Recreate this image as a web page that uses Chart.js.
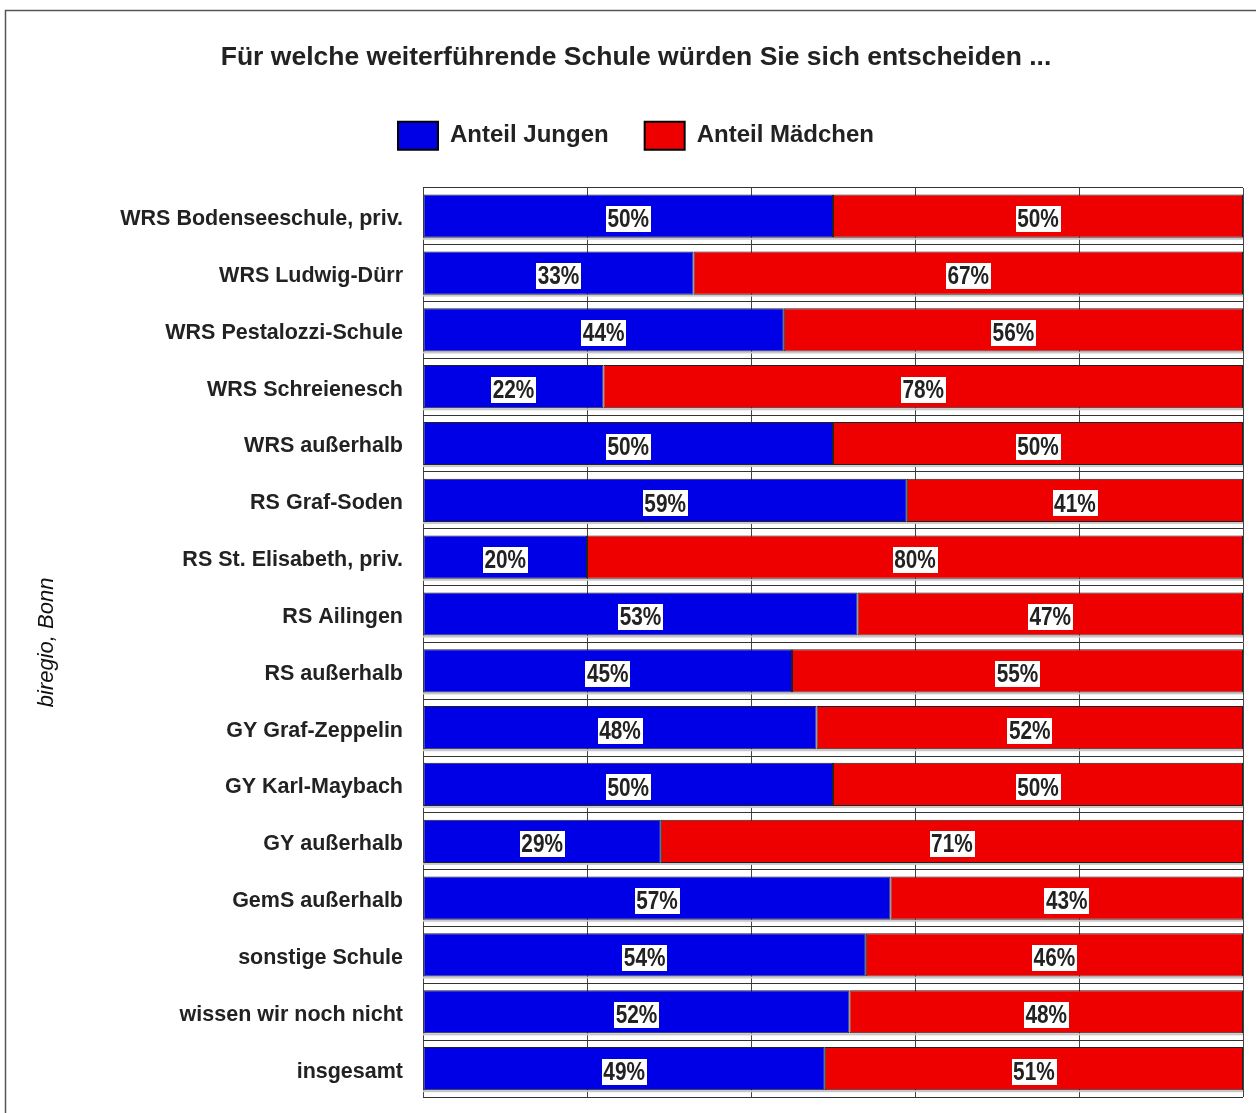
<!DOCTYPE html>
<html>
<head>
<meta charset="utf-8">
<script src="https://cdn.jsdelivr.net/npm/chart.js@4/dist/chart.umd.min.js"></script>
<style>
  html, body { margin: 0; padding: 0; background: #fff; }
  canvas { display: block; }
</style>
</head>
<body>
<canvas id="chart" width="1256" height="1113"></canvas>
<script>
/* data */
const schools = [
    'WRS Bodenseeschule, priv.',
    'WRS Ludwig-Dürr',
    'WRS Pestalozzi-Schule',
    'WRS Schreienesch',
    'WRS außerhalb',
    'RS Graf-Soden',
    'RS St. Elisabeth, priv.',
    'RS Ailingen',
    'RS außerhalb',
    'GY Graf-Zeppelin',
    'GY Karl-Maybach',
    'GY außerhalb',
    'GemS außerhalb',
    'sonstige Schule',
    'wissen wir noch nicht',
    'insgesamt'
];
const jungen = [50, 33, 44, 22, 50, 59, 20, 53, 45, 48, 50, 29, 57, 54, 52, 49];
const maedchen = [50, 67, 56, 78, 50, 41, 80, 47, 55, 52, 50, 71, 43, 46, 48, 51];
const x_ticks = [0, 20, 40, 60, 80, 100];

const BLUE = '#0000e6';
const RED = '#ee0000';
const TEXT = '#222';
const FONT = '"Liberation Sans", Arial, sans-serif';
const PAD_LEFT = 29;

/* outer frame */
const framePlugin = {
    id: 'frame',
    beforeDraw(chart) {
        const ctx = chart.ctx;
        ctx.save();
        ctx.strokeStyle = '#555';
        ctx.lineWidth = 1.5;
        ctx.strokeRect(5.5, 10.5, 1400, 1300);
        ctx.restore();
    }
};

/* light shadow below each bar */
const shadowPlugin = {
    id: 'shadow',
    beforeDatasetsDraw(chart) {
        const ctx = chart.ctx;
        const meta = chart.getDatasetMeta(1);
        const area = chart.chartArea;
        ctx.save();
        ctx.fillStyle = '#c8c8c8';
        meta.data.forEach(bar => {
            const bottom = bar.y + bar.height / 2;
            ctx.fillRect(area.left, bottom, area.right - area.left, 2);
        });
        ctx.restore();
    }
};

/* percent labels in white boxes (narrow bold text) */
const valueLabels = {
    id: 'valueLabels',
    afterDatasetsDraw(chart) {
        const ctx = chart.ctx;
        const squeeze = 0.8;
        ctx.save();
        ctx.font = 'bold 26px ' + FONT;
        ctx.textAlign = 'center';
        ctx.textBaseline = 'middle';
        chart.data.datasets.forEach((ds, di) => {
            chart.getDatasetMeta(di).data.forEach((bar, i) => {
                const text = ds.data[i] + '%';
                const cx = (bar.x + bar.base) / 2;
                const cy = bar.y + 3;
                const w = ctx.measureText(text).width * squeeze + 3;
                ctx.fillStyle = '#fff';
                ctx.fillRect(Math.round(cx - w / 2), Math.round(cy - 13), Math.round(w), 26);
                ctx.save();
                ctx.translate(cx, cy + 1);
                ctx.scale(squeeze, 1);
                ctx.fillStyle = TEXT;
                ctx.fillText(text, 0, 0);
                ctx.restore();
            });
        });
        ctx.restore();
    }
};

new Chart('chart', {
    type: 'bar',
    data: {
        labels: schools,
        datasets: [
            {
                label: 'Anteil Jungen',
                data: jungen,
                backgroundColor: BLUE,
                borderColor: '#222',
                borderWidth: 1,
                borderSkipped: false,
                categoryPercentage: 1,
                barPercentage: 0.76
            },
            {
                label: 'Anteil Mädchen',
                data: maedchen,
                backgroundColor: RED,
                borderColor: '#222',
                borderWidth: 1,
                borderSkipped: false,
                categoryPercentage: 1,
                barPercentage: 0.76
            }
        ]
    },
    options: {
        indexAxis: 'y',
        responsive: false,
        animation: false,
        layout: { padding: { left: PAD_LEFT, right: 13, bottom: 16, top: 0 } },
        scales: {
            x: {
                position: 'top',
                stacked: true,
                min: 0,
                max: 100,
                afterBuildTicks: s => { s.ticks = x_ticks.map(v => ({ value: v })); },
                afterFit: s => { s.height = 28; },
                ticks: { display: false },
                grid: { color: '#444', lineWidth: 1, drawTicks: false },
                border: { display: false }
            },
            y: {
                stacked: true,
                afterFit: s => {
                    s.width = 423 - PAD_LEFT;
                    s.paddingTop = 0;
                    s.paddingBottom = 0;
                },
                ticks: {
                    color: TEXT,
                    padding: 20,
                    labelOffset: 3,
                    font: { family: FONT, size: 21.5, weight: 'bold' }
                },
                grid: { color: '#333', lineWidth: 1, drawTicks: false },
                border: { display: false },
                title: {
                    display: true,
                    text: 'biregio, Bonn',
                    color: '#111',
                    padding: { top: 5, bottom: 0 },
                    font: { family: FONT, size: 22, style: 'italic' }
                }
            }
        },
        plugins: {
            title: {
                display: true,
                text: 'Für welche weiterführende Schule würden Sie sich entscheiden ...',
                color: TEXT,
                padding: { top: 42, bottom: 12 },
                font: { family: FONT, size: 26.5, weight: 'bold' }
            },
            legend: {
                display: true,
                labels: {
                    boxWidth: 40,
                    boxHeight: 28,
                    padding: 36,
                    color: TEXT,
                    font: { family: FONT, size: 24, weight: 'bold' },
                    generateLabels: chart => {
                        const items = Chart.defaults.plugins.legend.labels.generateLabels(chart);
                        items.forEach(it => { it.lineWidth = 2; it.strokeStyle = '#000'; });
                        return items;
                    }
                }
            },
            tooltip: { enabled: false }
        }
    },
    plugins: [framePlugin, shadowPlugin, valueLabels]
});
</script>
</body>
</html>
